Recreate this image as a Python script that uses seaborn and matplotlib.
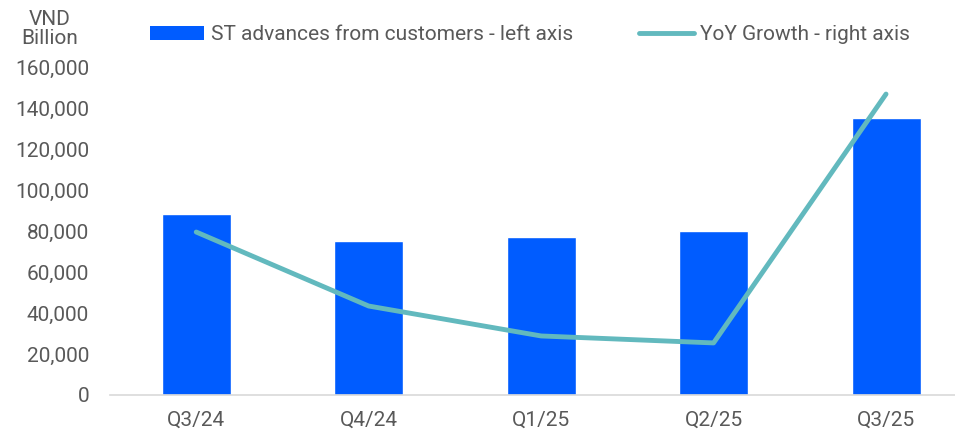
import matplotlib
matplotlib.use("Agg")
import matplotlib.pyplot as plt
import seaborn as sns
import numpy as np
import pandas as pd
from matplotlib.ticker import FuncFormatter
from matplotlib.lines import Line2D
from matplotlib.patches import Patch

quarters = ["Q3/24", "Q4/24", "Q1/25", "Q2/25", "Q3/25"]
st_advances = [88300, 75100, 77100, 80000, 135100]
yoy_growth = [79.5, 43.4, 28.8, 25.4, 146.8]

bar_color = "#005CFF"
line_color = "#62B9BE"
text_color = "#595959"

sns.set_theme(style="white")
plt.rcParams["font.family"] = ["Roboto", "DejaVu Sans"]

df = pd.DataFrame({"quarter": quarters, "adv": st_advances, "yoy": yoy_growth,
                   "pos": np.arange(len(quarters))})

fig = plt.figure(figsize=(9.55, 4.33), dpi=100)
ax = fig.add_axes([110/955, 1-395/433, 1-110/955, (395-67)/433])

sns.barplot(data=df, x="quarter", y="adv", color=bar_color, width=0.4,
            saturation=1, ax=ax)
ax.set_xlim(-0.5, 4.4)
ax.set_ylim(0, 160000)
ax.set_yticks(np.arange(0, 160001, 20000))
ax.yaxis.set_major_formatter(FuncFormatter(lambda v, p: f"{int(v):,}"))
ax.set_xlabel("")
ax.set_ylabel("")
ax.tick_params(axis="both", colors=text_color, labelsize=15, length=0)
ax.tick_params(axis="x", pad=11)
ax.tick_params(axis="y", pad=15)
for s in ["top", "right", "left"]:
    ax.spines[s].set_visible(False)
ax.spines["bottom"].set_color("#D9D9D9")
ax.spines["bottom"].set_linewidth(1.2)

ax2 = ax.twinx()
sns.lineplot(data=df, x="pos", y="yoy", color=line_color, linewidth=3.5,
             ax=ax2, sort=False)
ax2.set_ylim(0, 160)
ax2.set_yticks([])
ax2.set_ylabel("")
ax2.set_xlim(-0.5, 4.4)
for s in ["top", "right", "left", "bottom"]:
    ax2.spines[s].set_visible(False)
for ln in ax2.lines:
    ln.set_solid_capstyle("round")
    ln.set_solid_joinstyle("round")

fig.text(50/955, 1-29/433, "VND\nBillion", ha="center", va="center",
         color=text_color, fontsize=15, linespacing=1.05)

handles = [Patch(facecolor=bar_color, edgecolor="none"),
           Line2D([0], [0], color=line_color, linewidth=3.5)]
labels = ["ST advances from customers - left axis", "YoY Growth - right axis"]
fig.legend(handles, labels, loc="center", bbox_to_anchor=(530/955, 1-35/433),
           ncol=2, frameon=False, fontsize=15, labelcolor=text_color,
           handlelength=2.6, handleheight=0.65, handletextpad=0.3,
           columnspacing=3.2)

fig.savefig("out.png", dpi=100)
